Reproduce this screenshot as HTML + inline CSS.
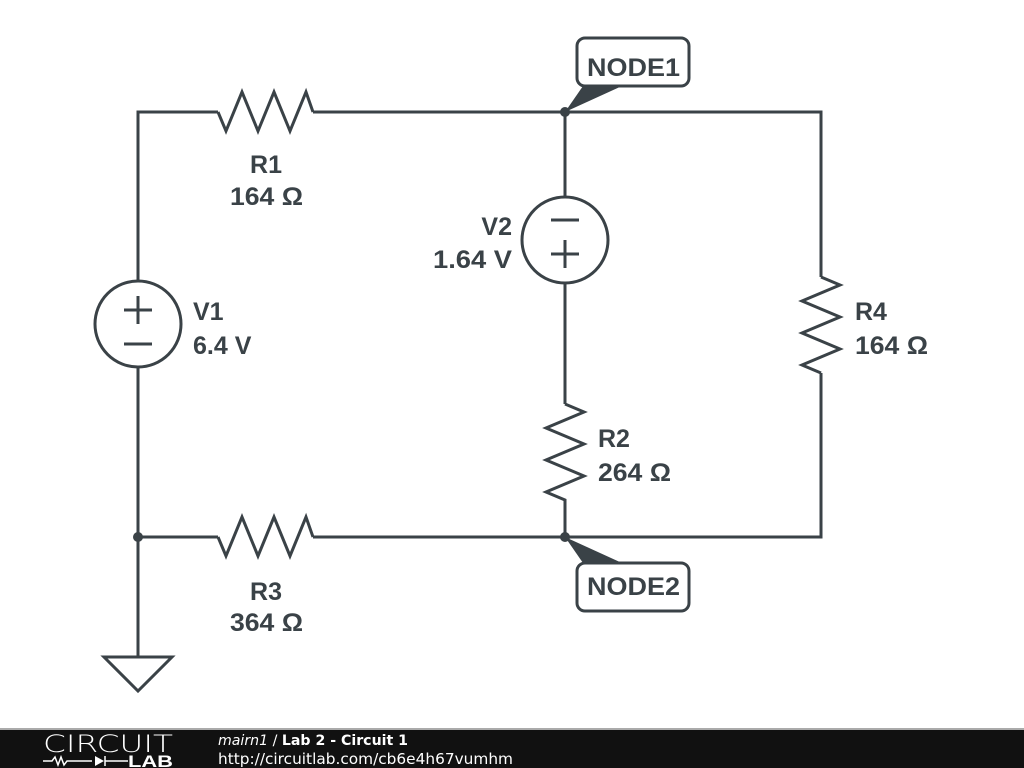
<!DOCTYPE html>
<html><head><meta charset="utf-8"><style>
html,body{margin:0;padding:0;background:#fff;}
svg{display:block;}
</style></head><body>
<svg width="1024" height="768" viewBox="0 0 1024 768" xmlns="http://www.w3.org/2000/svg">
<g stroke="#3a4247" stroke-width="3" fill="none" stroke-linejoin="miter">
<polyline points="138,281 138,112 218,112"/>
<polyline points="218,112 226,131 242,92 258,131 274,92 290,131 306,92 313,112"/>
<polyline points="313,112 821,112 821,277"/>
<polyline points="821,277 840,285 802,301 840,317 802,333 840,349 802,365 821,373"/>
<polyline points="821,373 821,537 565,537"/>
<polyline points="138,537 218,537"/>
<polyline points="218,537 226,556 242,517 258,556 274,517 290,556 306,517 313,537"/>
<polyline points="313,537 565,537"/>
<circle cx="138" cy="324" r="43"/>
<line x1="138" y1="367" x2="138" y2="657"/>
<line x1="124" y1="310" x2="152" y2="310"/>
<line x1="138" y1="296" x2="138" y2="324"/>
<line x1="124" y1="344" x2="152" y2="344"/>
<polygon points="104,657 172,657 138,691"/>
<line x1="565" y1="112" x2="565" y2="197"/>
<circle cx="565" cy="240" r="43"/>
<line x1="551" y1="220" x2="579" y2="220"/>
<line x1="551" y1="254" x2="579" y2="254"/>
<line x1="565" y1="240" x2="565" y2="268"/>
<line x1="565" y1="283" x2="565" y2="404"/>
<polyline points="565,404 584,412 546,428 584,444 546,460 584,476 546,492 565,500 565,537"/>
<rect x="577" y="38" width="112" height="48" rx="8" ry="8" fill="#fff"/>
<rect x="577" y="563" width="112" height="48" rx="8" ry="8" fill="#fff"/>
</g>
<g fill="#3a4247">
<polygon points="565,112 583,86 622,86"/>
<polygon points="565,537 583,563 622,563"/>
<circle cx="138" cy="537" r="5"/>
<circle cx="565" cy="112" r="5"/>
<circle cx="565" cy="537" r="5"/>
</g>
<g fill="#3a4247" font-family="'Liberation Sans',sans-serif" font-weight="bold" font-size="25">
<text x="587" y="76" textLength="93" lengthAdjust="spacingAndGlyphs">NODE1</text>
<text x="587" y="595" textLength="93" lengthAdjust="spacingAndGlyphs">NODE2</text>
<text x="266" y="173" text-anchor="middle">R1</text>
<text x="230" y="205" textLength="73" lengthAdjust="spacingAndGlyphs">164 Ω</text>
<text x="512" y="235" text-anchor="end">V2</text>
<text x="433" y="268" textLength="79" lengthAdjust="spacingAndGlyphs">1.64 V</text>
<text x="193" y="320">V1</text>
<text x="193" y="354">6.4 V</text>
<text x="855" y="320">R4</text>
<text x="855" y="354" textLength="73" lengthAdjust="spacingAndGlyphs">164 Ω</text>
<text x="598" y="447">R2</text>
<text x="598" y="481" textLength="73" lengthAdjust="spacingAndGlyphs">264 Ω</text>
<text x="266" y="600" text-anchor="middle">R3</text>
<text x="230" y="631" textLength="73" lengthAdjust="spacingAndGlyphs">364 Ω</text>
</g>
<rect x="0" y="728" width="1024" height="40" fill="#111"/>
<rect x="0" y="728" width="1024" height="2" fill="#aaa"/>
<text x="43" y="752" fill="#fff" font-family="'DejaVu Sans',sans-serif" font-weight="200" font-size="24" textLength="130" lengthAdjust="spacingAndGlyphs">CIRCUIT</text>
<g stroke="#fff" stroke-width="1.5" fill="none">
<polyline points="43,761 52,761 55,757 58,765 61,757 64,765 67,761 92,761"/>
<line x1="105" y1="756" x2="105" y2="766"/>
<line x1="105" y1="761" x2="128" y2="761"/>
</g>
<polygon points="95,756 95,766 104,761" fill="#fff"/>
<text x="128" y="767" fill="#fff" font-family="'Liberation Sans',sans-serif" font-weight="bold" font-size="17" textLength="45" lengthAdjust="spacingAndGlyphs">LAB</text>
<text x="218" y="745" fill="#fff" font-family="'DejaVu Sans',sans-serif" font-size="14" textLength="190" lengthAdjust="spacingAndGlyphs"><tspan font-style="italic">mairn1</tspan> / <tspan font-weight="bold">Lab 2 - Circuit 1</tspan></text>
<text x="218" y="764" fill="#fff" font-family="'DejaVu Sans',sans-serif" font-size="15" textLength="295" lengthAdjust="spacingAndGlyphs">http://circuitlab.com/cb6e4h67vumhm</text>
</svg>
</body></html>
